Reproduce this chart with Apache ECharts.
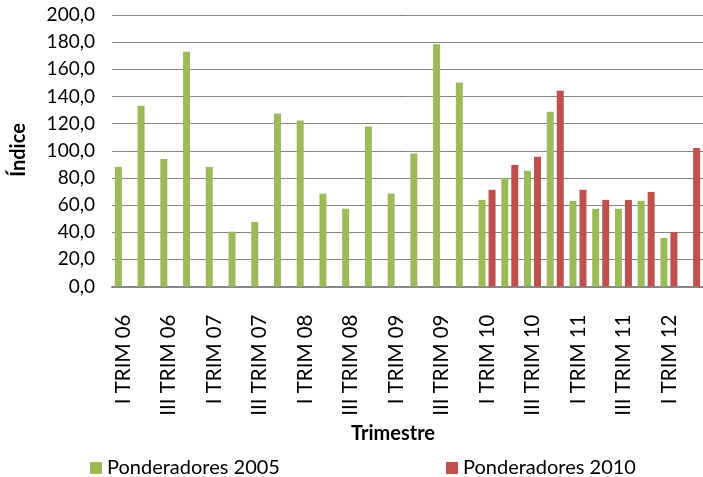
<!DOCTYPE html>
<html>
<head>
<meta charset="utf-8">
<script src="https://cdn.jsdelivr.net/npm/echarts@6/dist/echarts.min.js"></script>
<style>html,body{margin:0;padding:0;background:#fff}#c{width:703px;height:477px}</style>
</head>
<body>
<div id="c"></div>
<script>
const categories = [
  'I TRIM 06','II TRIM 06','III TRIM 06','IV TRIM 06',
  'I TRIM 07','II TRIM 07','III TRIM 07','IV TRIM 07',
  'I TRIM 08','II TRIM 08','III TRIM 08','IV TRIM 08',
  'I TRIM 09','II TRIM 09','III TRIM 09','IV TRIM 09',
  'I TRIM 10','II TRIM 10','III TRIM 10','IV TRIM 10',
  'I TRIM 11','II TRIM 11','III TRIM 11','IV TRIM 11',
  'I TRIM 12','II TRIM 12'
];
const pond2005 = [88.1,133.1,94.0,172.9,88.1,40.4,47.6,127.4,122.3,68.4,57.3,117.9,68.4,97.9,178.4,150.3,63.8,80.0,85.2,128.7,63.1,57.2,57.2,63.1,35.8,null];
const pond2010 = [null,null,null,null,null,null,null,null,null,null,null,null,null,null,null,null,71.2,89.6,95.5,144.2,71.2,63.8,63.8,69.7,40.2,102.1];
const yTicks = [0,20,40,60,80,100,120,140,160,180,200];

const FONT = 'Lato';
const chart = echarts.init(document.getElementById('c'), null, {renderer:'canvas'});
chart.setOption({
  animation: false,
  textStyle: {fontFamily: FONT},
  grid: {left: 112, right: -4, top: 15, bottom: 190.5, containLabel: false},
  legend: [
    {data: ['Ponderadores 2005'], left: 85, top: 453, icon: 'rect', itemWidth: 12, itemHeight: 12,
     textStyle: {fontFamily: FONT, fontSize: 20, color: '#000'}},
    {data: ['Ponderadores 2010'], left: 441, top: 453, icon: 'rect', itemWidth: 12, itemHeight: 12,
     textStyle: {fontFamily: FONT, fontSize: 20, color: '#000'}}
  ],
  xAxis: {
    type: 'category', data: categories,
    axisLine: {lineStyle: {color: '#868686', width: 2}},
    axisTick: {show: false},
    axisLabel: {interval: 1, rotate: 90, margin: 28, fontFamily: FONT, fontSize: 20.5, color: '#000'}
  },
  yAxis: {
    type: 'value', min: yTicks[0], max: yTicks[yTicks.length-1], interval: 20,
    axisLine: {show: false}, axisTick: {show: false},
    splitLine: {lineStyle: {color: '#868686', width: 1}},
    axisLabel: {margin: 17, fontFamily: FONT, fontSize: 19, color: '#000',
      formatter: v => v.toFixed(1).replace('.', ',')}
  },
  graphic: [
    {type: 'text', x: 393, y: 434, style: {text: 'Trimestre', font: 'bold 20px ' + FONT, fill: '#000', align: 'center', verticalAlign: 'middle'}},
    {type: 'text', x: 19, y: 150, rotation: Math.PI/2, style: {text: 'Índice', font: 'bold 20px ' + FONT, fill: '#000', align: 'center', verticalAlign: 'middle'}}
  ],
  series: [
    {name: 'Ponderadores 2005', type: 'bar', data: pond2005, barWidth: 7, barGap: '43%', itemStyle: {color: '#9BBB59'}},
    {name: 'Ponderadores 2010', type: 'bar', data: pond2010, barWidth: 7, barGap: '43%', itemStyle: {color: '#C0504D'}}
  ]
});
</script>
</body>
</html>
